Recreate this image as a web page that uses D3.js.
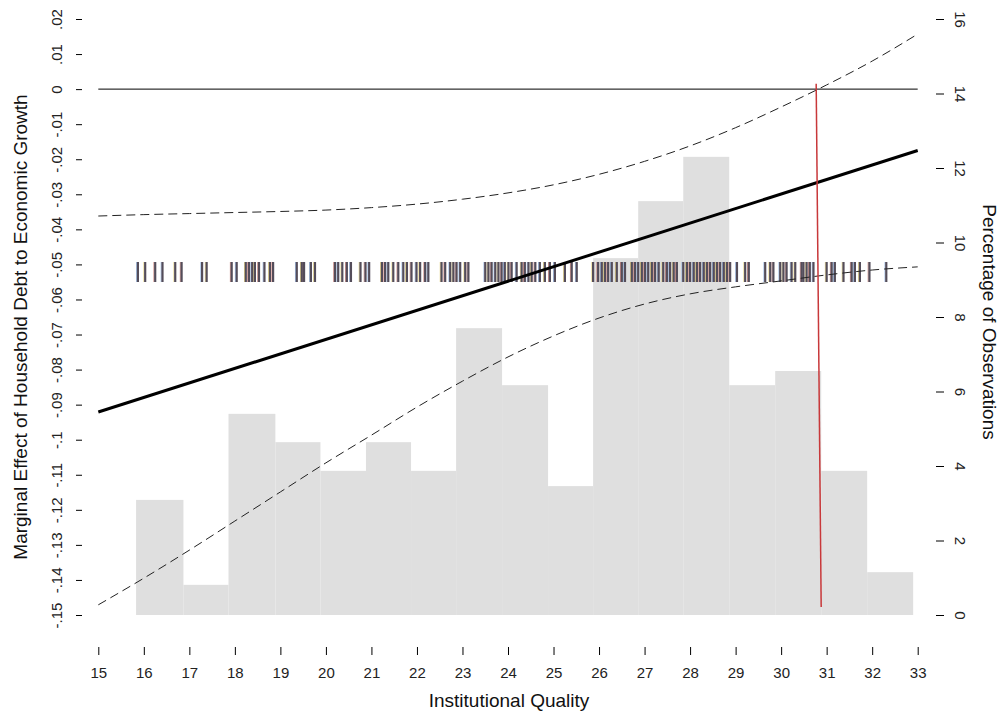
<!DOCTYPE html>
<meta charset="utf-8">
<head>
  <script src="https://cdn.jsdelivr.net/npm/d3@7"></script>
  <style>
    body { margin: 0; background: #fff; }
    svg { font-family: "Liberation Sans", Arial, sans-serif; }
    .tick text { fill: #222; }
  </style>
</head>
<body>
<script>

// eje x: calidad institucional
var xTicks = [15,16,17,18,19,20,21,22,23,24,25,26,27,28,29,30,31,32,33];
// eje izquierdo: efecto marginal
var yTicks = [-0.15,-0.14,-0.13,-0.12,-0.11,-0.1,-0.09,-0.08,-0.07,-0.06,-0.05,-0.04,-0.03,-0.02,-0.01,0,0.01,0.02];
// eje derecho: porcentaje de observaciones
var pctTicks = [0,2,4,6,8,10,12,14,16];

// histograma (bordes de clase y porcentaje)
var binEdges = [15.83,16.87,17.86,18.89,19.88,20.88,21.87,22.86,23.87,24.88,25.87,26.86,27.85,28.86,29.87,30.88,31.89,32.90];
var binPct = [3.09,0.81,5.40,4.64,3.87,4.64,3.87,7.70,6.17,3.46,9.58,11.11,12.30,6.17,6.55,3.87,1.15];

// efecto marginal (recta) y bandas de confianza
var effectX = [15,33];
var effect = [-0.0921,-0.0175];
var ciX = [15,16,17,18,19,20,21,22,23,24,25,26,27,28,29,30,31,32,33];
var ciUpper = [-0.0362,-0.0358,-0.0355,-0.0352,-0.0349,-0.0345,-0.0338,-0.0328,-0.0314,-0.0296,-0.0273,-0.0243,-0.0206,-0.0162,-0.0110,-0.0051,0.0012,0.0080,0.0157];
var ciLower = [-0.1471,-0.1395,-0.1315,-0.1232,-0.1149,-0.1066,-0.0987,-0.0907,-0.0833,-0.0764,-0.0704,-0.0653,-0.0613,-0.0584,-0.0564,-0.0547,-0.0530,-0.0516,-0.0507];

// linea roja (punto donde el efecto deja de ser significativo)
var redX = [30.77,30.88];
var redY = [0.0015,-0.1477];

// rug de observaciones
var rug = [15.87,16.03,16.25,16.41,16.69,16.83,17.28,17.38,17.93,18.04,18.24,18.31,18.38,18.44,18.53,18.65,18.77,18.84,
  19.36,19.47,19.52,19.67,19.76,20.20,20.27,20.36,20.46,20.55,20.76,20.87,20.95,
  21.23,21.30,21.37,21.48,21.59,21.70,21.78,21.88,21.99,22.07,22.18,22.25,22.54,22.62,22.73,22.80,22.87,22.95,23.06,23.13,
  23.50,23.57,23.64,23.72,23.79,23.86,23.93,24.01,24.08,24.19,24.30,24.37,24.45,24.52,24.60,24.70,24.81,24.92,25.03,25.25,25.40,25.51,
  25.87,25.98,26.06,26.13,26.20,26.28,26.39,26.50,26.57,26.72,26.79,26.86,26.94,27.01,27.08,27.16,27.23,27.31,27.41,27.49,27.56,27.64,27.71,
  27.85,27.93,28.00,28.08,28.15,28.22,28.30,28.37,28.44,28.52,28.59,28.66,28.74,28.81,28.88,29.03,29.21,29.29,
  29.65,29.76,29.83,29.98,30.05,30.12,30.23,30.31,30.45,30.49,30.56,30.63,30.71,31.00,31.11,31.18,31.37,31.55,31.62,31.73,31.94,32.31];

var w = 1000, h = 712;

var svg = d3.select("body").append("svg")
  .attr("width", w).attr("height", h);

var x = d3.scaleLinear().domain([15,33]).range([98.3,917.7]);
var y = d3.scaleLinear().domain([-0.15,0.02]).range([615,19]);
var yPct = d3.scaleLinear().domain([0,16]).range([615,19]);

// barras del histograma
var bins = binPct.map(function(p,i){ return {x0: binEdges[i], x1: binEdges[i+1], p: p}; });

svg.append("g").selectAll("rect")
  .data(bins)
  .enter()
  .append("rect")
  .attr("x", function(d){ return x(d.x0); })
  .attr("width", function(d){ return x(d.x1) - x(d.x0); })
  .attr("y", function(d){ return yPct(d.p); })
  .attr("height", function(d){ return yPct(0) - yPct(d.p); })
  .attr("fill", "#dfdfdf");

// linea del cero
svg.append("line")
  .attr("x1", x(15)).attr("x2", x(33))
  .attr("y1", y(0)).attr("y2", y(0))
  .attr("stroke", "#000").attr("stroke-width", 1);

// rug (borde de color + trazo oscuro, como el original)
var rugG = svg.append("g");
rugG.selectAll("line.f")
  .data(rug)
  .enter()
  .append("line")
  .attr("class", "f")
  .attr("x1", function(d){ return x(d) - 1.3; })
  .attr("x2", function(d){ return x(d) - 1.3; })
  .attr("y1", 262).attr("y2", 282)
  .attr("stroke", function(d,i){ return ["#7fa6dc","#e0c860","#c46a60"][i % 3]; })
  .attr("stroke-width", 1)
  .attr("opacity", 0.7);
rugG.selectAll("line.r")
  .data(rug)
  .enter()
  .append("line")
  .attr("class", "r")
  .attr("x1", function(d){ return x(d); })
  .attr("x2", function(d){ return x(d); })
  .attr("y1", 262).attr("y2", 282)
  .attr("stroke", "#544d5a")
  .attr("stroke-width", 2.2);

var line = d3.line()
  .x(function(d){ return x(d[0]); })
  .y(function(d){ return y(d[1]); });

// bandas de confianza
[ciUpper, ciLower].forEach(function(s){
  svg.append("path")
    .datum(ciX.map(function(v,i){ return [v, s[i]]; }))
    .attr("d", d3.line().curve(d3.curveMonotoneX)
      .x(function(d){ return x(d[0]); })
      .y(function(d){ return y(d[1]); }))
    .attr("fill", "none")
    .attr("stroke", "#222")
    .attr("stroke-width", 1)
    .attr("stroke-dasharray", "9,5");
});

// efecto marginal
svg.append("path")
  .datum(effectX.map(function(v,i){ return [v, effect[i]]; }))
  .attr("d", line)
  .attr("fill", "none")
  .attr("stroke", "#000")
  .attr("stroke-width", 3);

// linea roja
svg.append("path")
  .datum(redX.map(function(v,i){ return [v, redY[i]]; }))
  .attr("d", line)
  .attr("fill", "none")
  .attr("stroke", "#c8383a")
  .attr("stroke-width", 1.5);

// eje x
var gx = svg.append("g")
  .attr("transform", "translate(0,647)")
  .call(d3.axisBottom(x).tickValues(xTicks).tickSize(8).tickPadding(12).tickFormat(d3.format("d")));
gx.select(".domain").remove();
gx.selectAll("text").attr("font-size", 15).attr("font-family", "Liberation Sans, Arial, sans-serif");

// eje izquierdo
var fmtL = function(d){
  if (Math.abs(d) < 1e-9) return "0";
  var s = d3.format(".2~f")(Math.abs(d)).replace(/^0/, "");
  return (d < 0 ? "-" : "") + s;
};
var gy = svg.append("g")
  .attr("transform", "translate(82,0)")
  .call(d3.axisLeft(y).tickValues(yTicks).tickSize(6).tickFormat(fmtL));
gy.select(".domain").remove();
gy.selectAll("text")
  .attr("x", null).attr("dy", null)
  .attr("text-anchor", "middle")
  .attr("transform", "translate(-20,0) rotate(-90)")
  .attr("font-size", 15).attr("font-family", "Liberation Sans, Arial, sans-serif");

// eje derecho
var gr = svg.append("g")
  .attr("transform", "translate(936,0)")
  .call(d3.axisRight(yPct).tickValues(pctTicks).tickSize(8));
gr.select(".domain").remove();
gr.selectAll("text")
  .attr("x", null).attr("dy", null)
  .attr("text-anchor", "middle")
  .attr("transform", "translate(19,0) rotate(90)")
  .attr("font-size", 15).attr("font-family", "Liberation Sans, Arial, sans-serif");

// titulos
svg.append("text")
  .attr("x", 509).attr("y", 707)
  .attr("text-anchor", "middle")
  .attr("font-size", 19)
  .attr("fill", "#111")
  .text("Institutional Quality");

svg.append("text")
  .attr("transform", "translate(27,327) rotate(-90)")
  .attr("text-anchor", "middle")
  .attr("font-size", 19)
  .attr("fill", "#111")
  .text("Marginal Effect of Household Debt to Economic Growth");

svg.append("text")
  .attr("transform", "translate(983,322) rotate(90)")
  .attr("text-anchor", "middle")
  .attr("font-size", 19)
  .attr("fill", "#111")
  .text("Percentage of Observations");

</script>
</body>
